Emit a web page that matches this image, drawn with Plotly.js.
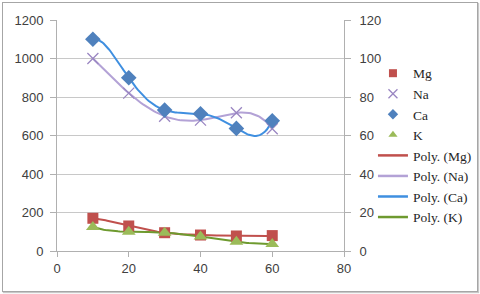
<!DOCTYPE html>
<html><head><meta charset="utf-8">
<script src="https://cdn.plot.ly/plotly-3.0.1.min.js"></script>
<style>
html,body{margin:0;padding:0;background:#fff;}
#wrap{position:absolute;left:2px;top:2px;width:474px;height:288px;border:1px solid #a6a6a6;box-shadow:1px 1px 1px #c8c8c8;}
</style></head>
<body>
<div id="wrap"></div>
<div id="chart" style="position:absolute;left:0;top:0;width:480px;height:294px;"></div>
<script>
// Data
const xs = [10, 20, 30, 40, 50, 60];
const mg = [170, 130, 95, 83, 78, 80];
const na = [1000, 820, 700, 680, 718, 635];
const ca = [1100, 900, 732, 713, 637, 677];
const k  = [125, 100, 95, 75, 48, 36];
const seriesNames = ['Mg', 'Na', 'Ca', 'K'];
const trendNames = ['Poly. (Mg)', 'Poly. (Na)', 'Poly. (Ca)', 'Poly. (K)'];
const polyOrder = 5;

function polyfit(x, y, order) {
  const n = order + 1;
  const sx = x.map(v => v / 10);
  const A = [], b = [];
  for (let i = 0; i < n; i++) {
    A.push(new Array(n).fill(0)); b.push(0);
  }
  for (let p = 0; p < sx.length; p++) {
    for (let i = 0; i < n; i++) {
      for (let j = 0; j < n; j++) A[i][j] += Math.pow(sx[p], i + j);
      b[i] += y[p] * Math.pow(sx[p], i);
    }
  }
  for (let c = 0; c < n; c++) {
    let piv = c;
    for (let r = c + 1; r < n; r++) if (Math.abs(A[r][c]) > Math.abs(A[piv][c])) piv = r;
    [A[c], A[piv]] = [A[piv], A[c]]; [b[c], b[piv]] = [b[piv], b[c]];
    for (let r = 0; r < n; r++) {
      if (r === c) continue;
      const f = A[r][c] / A[c][c];
      for (let j = c; j < n; j++) A[r][j] -= f * A[c][j];
      b[r] -= f * b[c];
    }
  }
  const coef = b.map((v, i) => v / A[i][i]);
  const px = [], py = [];
  for (let t = x[0]; t <= x[x.length - 1] + 1e-9; t += 0.5) {
    const s = t / 10;
    let v = 0;
    for (let i = 0; i < n; i++) v += coef[i] * Math.pow(s, i);
    px.push(t); py.push(v);
  }
  return {px, py};
}

const cMg = '#C0504D', cNa = '#9A86C2', cCa = '#4F81BD', cK = '#9BBB59';
const lMg = '#C0504D', lNa = '#B3A2D6', lCa = '#3F8FE0', lK = '#6E9A2F';

const fMg = polyfit(xs, mg, polyOrder), fNa = polyfit(xs, na, polyOrder),
      fCa = polyfit(xs, ca, polyOrder), fK = polyfit(xs, k, polyOrder);

const mkMg = (s) => ({symbol: 'square', size: s, color: cMg});
const mkNa = (s) => ({symbol: 'x-thin-open', size: s, line: {color: cNa, width: 1.3}, color: cNa});
const mkCa = (s) => ({symbol: 'diamond', size: s, color: cCa});
const mkK  = (s) => ({symbol: 'triangle-up', size: s, color: cK});

const data = [
  {x: fMg.px, y: fMg.py, mode: 'lines', line: {color: lMg, width: 2}, showlegend: false, hoverinfo: 'skip'},
  {x: fNa.px, y: fNa.py, mode: 'lines', line: {color: lNa, width: 2}, showlegend: false, hoverinfo: 'skip'},
  {x: fCa.px, y: fCa.py, mode: 'lines', line: {color: lCa, width: 2}, showlegend: false, hoverinfo: 'skip'},
  {x: fK.px,  y: fK.py,  mode: 'lines', line: {color: lK, width: 2}, showlegend: false, hoverinfo: 'skip'},
  {x: xs, y: mg, mode: 'markers', marker: mkMg(11), showlegend: false},
  {x: xs, y: na, mode: 'markers', marker: mkNa(11), showlegend: false},
  {x: xs, y: ca, mode: 'markers', marker: mkCa(12), showlegend: false},
  {x: xs, y: k,  mode: 'markers', marker: mkK(12), showlegend: false},
  // legend entries
  {x: [null], y: [null], name: seriesNames[0], mode: 'markers', marker: mkMg(8)},
  {x: [null], y: [null], name: seriesNames[1], mode: 'markers', marker: mkNa(9)},
  {x: [null], y: [null], name: seriesNames[2], mode: 'markers', marker: mkCa(8)},
  {x: [null], y: [null], name: seriesNames[3], mode: 'markers', marker: mkK(8)},
  {x: [null], y: [null], name: trendNames[0], mode: 'lines', line: {color: lMg, width: 2.5}},
  {x: [null], y: [null], name: trendNames[1], mode: 'lines', line: {color: lNa, width: 2.5}},
  {x: [null], y: [null], name: trendNames[2], mode: 'lines', line: {color: lCa, width: 2.5}},
  {x: [null], y: [null], name: trendNames[3], mode: 'lines', line: {color: lK, width: 2.5}},
  {x: [null], y: [null], yaxis: 'y2', showlegend: false, hoverinfo: 'skip'}
];

const tickFont = {family: 'Liberation Sans, Arial, sans-serif', size: 13, color: '#404040'};
const layout = {
  width: 480, height: 294,
  margin: {l: 57, r: 136, t: 20, b: 43, pad: 0, autoexpand: false},
  paper_bgcolor: 'rgba(0,0,0,0)', plot_bgcolor: 'rgba(0,0,0,0)',
  showlegend: true,
  xaxis: {range: [0, 80], dtick: 20, tick0: 0, showgrid: false, zeroline: false,
          showline: true, linecolor: '#b0b0b0', linewidth: 1, ticks: 'outside', ticklen: 5,
          tickcolor: '#b0b0b0', tickfont: tickFont, automargin: false},
  yaxis: {range: [0, 1200], dtick: 200, tick0: 0, showgrid: true, gridcolor: '#c8c8c8', gridwidth: 1,
          zeroline: false, showline: true, linecolor: '#b0b0b0', ticks: 'outside', ticklen: 6,
          tickcolor: '#b0b0b0', tickfont: tickFont, automargin: false, ticklabelstandoff: 4},
  yaxis2: {range: [0, 120], dtick: 20, tick0: 0, overlaying: 'y', side: 'right', showgrid: false,
           zeroline: false, showline: true, linecolor: '#b0b0b0', ticks: 'outside', ticklen: 6,
           tickcolor: '#b0b0b0', tickfont: tickFont, automargin: false, ticklabelstandoff: 6},
  legend: {xref: 'container', yref: 'container', x: 0.777, xanchor: 'left', y: 0.803, yanchor: 'top',
           bgcolor: 'rgba(0,0,0,0)', maxheight: 1,
           font: {family: 'Liberation Serif, Times New Roman, serif', size: 13.5, color: '#262626'},
           tracegroupgap: 0, itemwidth: 30}
};
Plotly.newPlot('chart', data, layout, {staticPlot: true, displayModeBar: false});
</script>
</body></html>
